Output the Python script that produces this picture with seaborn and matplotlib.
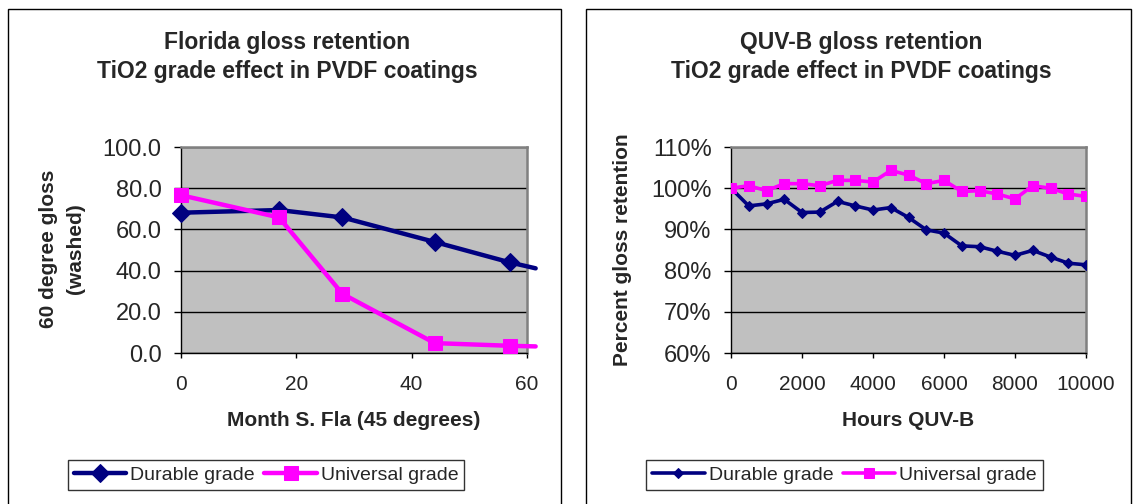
import numpy as np
import pandas as pd
import seaborn as sns
from matplotlib import pyplot as plt
from matplotlib.patches import Rectangle
from matplotlib.ticker import FuncFormatter

# Florida exposure (months) - last point is where the curve runs out past the axis
fla_months = [0, 17, 28, 44, 57, 61.5]
fla_durable = [68.1, 69.4, 65.8, 53.9, 44.0, 41.1]
fla_universal = [76.6, 65.8, 28.7, 4.8, 3.5, 3.2]

# QUV-B exposure (hours), percent gloss retention
quv_hours = [0, 500, 1000, 1500, 2000, 2500, 3000, 3500, 4000, 4500, 5000,
             5500, 6000, 6500, 7000, 7500, 8000, 8500, 9000, 9500, 10000]
quv_durable = [100.0, 95.7, 96.2, 97.3, 94.1, 94.2, 96.8, 95.7, 94.7, 95.3, 92.9,
               89.9, 89.1, 86.0, 85.8, 84.7, 83.7, 84.9, 83.3, 81.8, 81.4]
quv_universal = [100.0, 100.6, 99.4, 101.1, 101.1, 100.6, 101.9, 101.9, 101.5, 104.3, 103.2,
                 101.1, 101.9, 99.2, 99.4, 98.6, 97.4, 100.6, 100.0, 98.6, 98.0]

fla_yticks = [0, 20, 40, 60, 80, 100]
fla_xticks = [0, 20, 40, 60]
quv_yticks = [60, 70, 80, 90, 100, 110]
quv_xticks = [0, 2000, 4000, 6000, 8000, 10000]

NAVY = '#000080'
PINK = '#FF00FF'
W, H = 1137, 504


def pre_config():
    sns.set_style('ticks')
    plt.rcParams['font.family'] = ['Liberation Sans', 'DejaVu Sans']


def px_axes(fig, x0, y0, x1, y1):
    # pixel box (top-left origin) -> figure axes
    return fig.add_axes([x0 / W, 1 - y1 / H, (x1 - x0) / W, (y1 - y0) / H])


def style_axes(ax, xticks, yticks, yfmt):
    ax.set_facecolor('#C0C0C0')
    ax.set_xticks(xticks)
    ax.set_yticks(yticks)
    ax.set_xlim(xticks[0], xticks[-1])
    ax.set_ylim(yticks[0], yticks[-1])
    ax.yaxis.set_major_formatter(FuncFormatter(yfmt))
    ax.grid(axis='y', color='black', lw=1)
    ax.set_axisbelow(True)
    for s in ['left', 'bottom']:
        ax.spines[s].set_color('black')
        ax.spines[s].set_linewidth(1)
    for s in ['top', 'right']:
        ax.spines[s].set_visible(True)
        ax.spines[s].set_color('#808080')
        ax.spines[s].set_linewidth(1.8)
    ax.tick_params(axis='y', length=5, width=1, pad=9, labelsize=17, color='black')
    ax.tick_params(axis='x', length=3.6, width=1, pad=12, labelsize=15, color='black')
    ax.set_xlabel('')
    ax.set_ylabel('')


def main():
    pre_config()
    fig = plt.figure(figsize=(W / 100, H / 100), dpi=100)

    # chart frames
    for x0, x1 in [(7.5, 560.5), (585.5, 1131)]:
        fig.patches.append(Rectangle((x0 / W, -0.1), (x1 - x0) / W, 1.1 - 9.5 / H,
                                     transform=fig.transFigure, fill=False,
                                     edgecolor='black', lw=1))

    # Florida chart
    ax1 = px_axes(fig, 181, 147, 527, 353)
    keep = list(range(len(fla_months) - 1))
    sns.lineplot(x=fla_months, y=fla_durable, ax=ax1, color=NAVY, lw=3.2, marker='D',
                 markersize=9.5, markeredgecolor=NAVY, markevery=keep,
                 label='Durable grade', clip_on=False, zorder=3)
    sns.lineplot(x=fla_months, y=fla_universal, ax=ax1, color=PINK, lw=3.2, marker='s',
                 markersize=10.5, markeredgecolor=PINK, markevery=keep,
                 label='Universal grade', clip_on=False, zorder=4)
    style_axes(ax1, fla_xticks, fla_yticks, lambda v, p: f'{v:.1f}')

    # QUV-B chart
    ax2 = px_axes(fig, 731, 147, 1086, 353)
    sns.lineplot(x=quv_hours, y=quv_durable, ax=ax2, color=NAVY, lw=2.6, marker='D',
                 markersize=5.5, markeredgecolor=NAVY, label='Durable grade', zorder=3)
    sns.lineplot(x=quv_hours, y=quv_universal, ax=ax2, color=PINK, lw=2.6, marker='s',
                 markersize=7, markeredgecolor=PINK, label='Universal grade', zorder=4)
    style_axes(ax2, quv_xticks, quv_yticks, lambda v, p: f'{v:.0f}%')

    # titles and axis labels
    title_kw = dict(ha='center', va='center', fontsize=16.5, fontweight='bold',
                    linespacing=1.35)
    fig.text(287 / W, 1 - 57 / H, 'Florida gloss retention\nTiO2 grade effect in PVDF coatings',
             **title_kw)
    fig.text(861 / W, 1 - 57 / H, 'QUV-B gloss retention\nTiO2 grade effect in PVDF coatings',
             **title_kw)
    lab_kw = dict(ha='center', va='center', fontsize=15, fontweight='bold')
    fig.text(354 / W, 1 - 421 / H, 'Month S. Fla (45 degrees)', **lab_kw)
    fig.text(908 / W, 1 - 421 / H, 'Hours QUV-B', **lab_kw)
    fig.text(62 / W, 1 - 249 / H, '60 degree gloss\n(washed)', rotation=90,
             linespacing=1.5, multialignment='center', **lab_kw)
    fig.text(622 / W, 1 - 250 / H, 'Percent gloss retention', rotation=90, **lab_kw)

    # legends below each chart
    for ax, cx in [(ax1, 266), (ax2, 844.5)]:
        leg = ax.legend(loc='center', bbox_to_anchor=(cx / W, 1 - 475 / H),
                        bbox_transform=fig.transFigure, ncol=2, fontsize=14,
                        frameon=True, fancybox=False, shadow=False, borderpad=0.3,
                        handlelength=2.7, handletextpad=0.2, columnspacing=0.5,
                        borderaxespad=0)
        leg.get_frame().set_edgecolor('black')
        leg.get_frame().set_linewidth(1)

    fig.savefig('out.png', dpi=100)


if __name__ == '__main__':
    main()
